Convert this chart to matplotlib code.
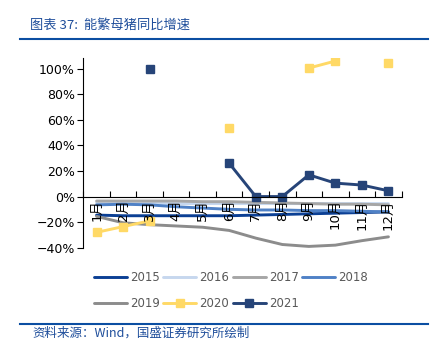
import numpy as np
import matplotlib
matplotlib.use("Agg")
import matplotlib.pyplot as plt
from matplotlib.ticker import FixedLocator, PercentFormatter

plt.rcParams['font.family'] = ['DejaVu Sans', 'Noto Sans CJK SC']

months = [f"{m}月" for m in range(1, 13)]

nan = np.nan
y2015 = [-14.5, -15, -15, -15, -15, -15, -14.5, -14, -13.5, -13, -12.5, -12]
y2016 = [-5, -5, -5, -5.5, -5.5, -5.5, -5.5, -5.5, -5.5, -5.5, -5.5, -5.5]
y2017 = [-3.5, -3.5, -3.5, -3.5, -4, -4, -4.5, -5, -5.5, -6, -6, -6.5]
y2018 = [-6.5, -6, -6.5, -8, -9, -10, -10.5, -10.5, -11, -11, -11.5, -12]
y2019 = [-15.5, -20.5, -22, -23, -24, -26.5, -32.5, -37.5, -39, -38, -34.5, -31.5]
y2020 = [-28, -23.5, -19, nan, nan, 53.5, nan, nan, 100.5, 106, nan, 104.5]
y2021 = [nan, nan, 100, nan, nan, 26, 0, 0, 17, 10.5, 9, 4.5]

series = [
    ("2015", y2015, "#0b3f94", None),
    ("2016", y2016, "#c6d7ee", None),
    ("2017", y2017, "#a6a6a6", None),
    ("2018", y2018, "#4f81c6", None),
    ("2019", y2019, "#8c8c8c", None),
    ("2020", y2020, "#ffd966", "s"),
    ("2021", y2021, "#264478", "s"),
]

fig = plt.figure(figsize=(4.38, 3.57), dpi=100)
ax = fig.add_axes([83.3 / 438, 1 - 247.7 / 357, 318.4 / 438, 190 / 357])

x = np.arange(12)
handles = []
for name, vals, color, marker in series:
    h, = ax.plot(x, vals, color=color, lw=2.1, marker=marker, markersize=5.5,
                 label=name, solid_capstyle="round")
    handles.append(h)

ax.set_xlim(-0.5, 11.5)
ax.set_ylim(-40, 108.6)
ax.set_yticks(np.arange(-40, 101, 20))
ax.yaxis.set_major_formatter(PercentFormatter(decimals=0))
ax.tick_params(axis="y", direction="out", length=4, width=0.8, labelsize=9,
               pad=2, colors="black")

ax.spines["bottom"].set_position(("data", 0))
ax.spines["top"].set_visible(False)
ax.spines["right"].set_visible(False)
ax.spines["left"].set_color("black")
ax.spines["bottom"].set_color("black")
ax.spines["left"].set_linewidth(0.8)
ax.spines["bottom"].set_linewidth(0.8)

ax.set_xticks(x)
ax.set_xticklabels(months, rotation=90, fontsize=9.5, va="top")
ax.tick_params(axis="x", which="major", length=0, pad=2)
ax.xaxis.set_minor_locator(FixedLocator(np.arange(-0.5, 12, 1)))
ax.tick_params(axis="x", which="minor", direction="in", length=4, width=0.8)
ax.xaxis.set_zorder(5)

# legend fills columns first, so reorder to get rows 2015-2018 / 2019-2021
order = [0, 4, 1, 5, 2, 6, 3]
leg = fig.legend([handles[i] for i in order], [series[i][0] for i in order],
                 loc="upper left", bbox_to_anchor=(94 / 438, 1 - 271 / 357),
                 ncol=4, frameon=False, fontsize=8.5, handlelength=2.8,
                 handletextpad=0.25, columnspacing=0.3, labelspacing=1.1,
                 borderpad=0, borderaxespad=0)
for t in leg.get_texts():
    t.set_color("#595959")

cjk = ['Noto Sans CJK SC', 'DejaVu Sans']
blue = "#1f4e9b"
fig.text(30 / 438, 1 - 25 / 357, "图表 37:  能繁母猪同比增速", family=cjk,
         style="italic", fontsize=9.5, color=blue, va="center", ha="left")
fig.add_artist(plt.Line2D([20 / 438, 428 / 438], [1 - 39 / 357] * 2,
                          color="#0b4ea2", lw=1.5))
fig.add_artist(plt.Line2D([20 / 438, 428 / 438], [1 - 324 / 357] * 2,
                          color="#0b4ea2", lw=1.5))
fig.text(32 / 438, 1 - 333 / 357, "资料来源：Wind，国盛证券研究所绘制", family=cjk,
         style="italic", fontsize=9, color=blue, va="center", ha="left")

fig.savefig("out.png", dpi=100)
